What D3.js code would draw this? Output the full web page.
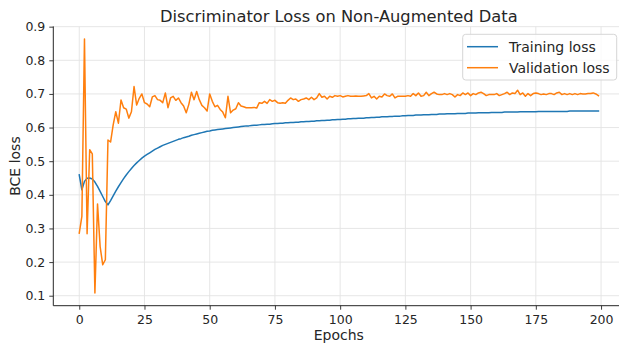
<!DOCTYPE html>
<html>
<head>
<meta charset="utf-8">
<script src="https://cdn.jsdelivr.net/npm/d3@7"></script>
<style>
  html, body { margin: 0; padding: 0; background: #fff; }
  svg { display: block; font-family: "DejaVu Sans", sans-serif; }
</style>
</head>
<body>
<svg id="chart" width="619" height="347"></svg>
<script>
// Per-epoch BCE loss of the discriminator (epochs 0..199)
const trainingLoss = [
  0.459, 0.415, 0.440, 0.449, 0.450, 0.447, 0.438, 0.425, 0.410, 0.395,
  0.380, 0.370, 0.383, 0.397, 0.411, 0.424, 0.436, 0.448, 0.459, 0.469,
  0.478, 0.487, 0.495, 0.502, 0.509, 0.515, 0.520, 0.525, 0.530, 0.535,
  0.539, 0.543, 0.547, 0.550, 0.553, 0.556, 0.559, 0.562, 0.565, 0.567,
  0.570, 0.572, 0.574, 0.577, 0.579, 0.581, 0.583, 0.585, 0.587, 0.589,
  0.590, 0.592, 0.593, 0.594, 0.595, 0.596, 0.597, 0.598, 0.599, 0.600,
  0.601, 0.602, 0.603, 0.604, 0.605, 0.605, 0.606, 0.607, 0.607, 0.608,
  0.609, 0.609, 0.610, 0.610, 0.611, 0.612, 0.612, 0.613, 0.613, 0.614,
  0.614, 0.615, 0.615, 0.616, 0.616, 0.617, 0.617, 0.618, 0.618, 0.619,
  0.619, 0.620, 0.620, 0.621, 0.621, 0.622, 0.622, 0.623, 0.623, 0.624,
  0.624, 0.625, 0.625, 0.626, 0.626, 0.627, 0.627, 0.628, 0.628, 0.628,
  0.629, 0.629, 0.630, 0.630, 0.631, 0.631, 0.632, 0.632, 0.632, 0.633,
  0.633, 0.634, 0.634, 0.634, 0.635, 0.635, 0.636, 0.636, 0.636, 0.637,
  0.637, 0.637, 0.638, 0.638, 0.638, 0.639, 0.639, 0.639, 0.640, 0.640,
  0.640, 0.641, 0.641, 0.641, 0.641, 0.642, 0.642, 0.642, 0.642, 0.643,
  0.643, 0.643, 0.643, 0.644, 0.644, 0.644, 0.644, 0.644, 0.645, 0.645,
  0.645, 0.645, 0.645, 0.646, 0.646, 0.646, 0.646, 0.646, 0.646, 0.647,
  0.647, 0.647, 0.647, 0.647, 0.647, 0.647, 0.648, 0.648, 0.648, 0.648,
  0.648, 0.648, 0.648, 0.648, 0.648, 0.648, 0.648, 0.648, 0.649, 0.649,
  0.649, 0.649, 0.649, 0.649, 0.649, 0.649, 0.649, 0.649, 0.649, 0.649
];

const validationLoss = [
  0.286, 0.336, 0.863, 0.284, 0.534, 0.522, 0.108, 0.373, 0.246, 0.192,
  0.207, 0.563, 0.557, 0.608, 0.647, 0.613, 0.682, 0.659, 0.655, 0.628,
  0.647, 0.722, 0.667, 0.687, 0.700, 0.674, 0.670, 0.662, 0.691, 0.695,
  0.683, 0.681, 0.674, 0.703, 0.659, 0.688, 0.693, 0.681, 0.688, 0.674,
  0.664, 0.644, 0.669, 0.705, 0.683, 0.707, 0.683, 0.666, 0.659, 0.649,
  0.700, 0.678, 0.662, 0.666, 0.654, 0.646, 0.629, 0.693, 0.644, 0.652,
  0.656, 0.674, 0.664, 0.662, 0.659, 0.659, 0.659, 0.660, 0.658, 0.674,
  0.672, 0.678, 0.672, 0.683, 0.678, 0.681, 0.674, 0.672, 0.674, 0.672,
  0.681, 0.688, 0.683, 0.685, 0.678, 0.683, 0.685, 0.688, 0.683, 0.690,
  0.683, 0.688, 0.701, 0.690, 0.693, 0.685, 0.693, 0.690, 0.695, 0.693,
  0.695, 0.691, 0.693, 0.695, 0.693, 0.693, 0.694, 0.693, 0.693, 0.694,
  0.695, 0.701, 0.688, 0.693, 0.685, 0.693, 0.691, 0.700, 0.695, 0.693,
  0.700, 0.688, 0.693, 0.693, 0.693, 0.693, 0.695, 0.693, 0.701, 0.695,
  0.703, 0.693, 0.695, 0.705, 0.695, 0.701, 0.705, 0.700, 0.698, 0.698,
  0.701, 0.698, 0.701, 0.698, 0.691, 0.698, 0.695, 0.703, 0.698, 0.703,
  0.695, 0.701, 0.698, 0.703, 0.705, 0.701, 0.695, 0.698, 0.698, 0.698,
  0.701, 0.695, 0.698, 0.701, 0.705, 0.698, 0.703, 0.701, 0.711, 0.698,
  0.703, 0.693, 0.701, 0.695, 0.701, 0.703, 0.701, 0.698, 0.700, 0.698,
  0.701, 0.701, 0.698, 0.703, 0.705, 0.698, 0.701, 0.698, 0.701, 0.698,
  0.701, 0.698, 0.701, 0.700, 0.700, 0.701, 0.701, 0.703, 0.700, 0.695
];

const epochs = d3.range(trainingLoss.length);
const xTicks = [0, 25, 50, 75, 100, 125, 150, 175, 200];
const yTicks = [0.1, 0.2, 0.3, 0.4, 0.5, 0.6, 0.7, 0.8, 0.9];
const seriesNames = ["Training loss", "Validation loss"];
const seriesColors = ["#1f77b4", "#ff7f0e"];
const titleText = "Discriminator Loss on Non-Augmented Data";
const xLabel = "Epochs";
const yLabel = "BCE loss";

const svg = d3.select("#chart");
const plot = { left: 53.3, right: 624.4, top: 26.4, bottom: 305.7 };

const x = d3.scaleLinear().domain([-9.95, 208.95]).range([plot.left, plot.right]);
const y = d3.scaleLinear().domain([0.0703, 0.9008]).range([plot.bottom, plot.top]);

// grid
const grid = svg.append("g").attr("stroke", "#e3e3e3").attr("stroke-width", 0.9);
grid.selectAll(".gx").data(xTicks).join("line")
  .attr("x1", d => x(d)).attr("x2", d => x(d))
  .attr("y1", plot.top).attr("y2", plot.bottom);
grid.selectAll(".gy").data(yTicks).join("line")
  .attr("x1", plot.left).attr("x2", plot.right)
  .attr("y1", d => y(d)).attr("y2", d => y(d));

// axes
const xAxis = svg.append("g")
  .attr("transform", `translate(0,${plot.bottom})`)
  .call(d3.axisBottom(x).tickValues(xTicks).tickFormat(d3.format("d")).tickSize(4).tickPadding(5));
const yAxis = svg.append("g")
  .attr("transform", `translate(${plot.left},0)`)
  .call(d3.axisLeft(y).tickValues(yTicks).tickFormat(d3.format(".1f")).tickSize(4).tickPadding(4));

[xAxis, yAxis].forEach(a => {
  a.select(".domain").attr("stroke", "#262626").attr("stroke-width", 1);
  a.selectAll(".tick line").attr("stroke", "#262626").attr("stroke-width", 0.9);
  a.selectAll(".tick text")
    .attr("fill", "#262626")
    .style("font-family", "DejaVu Sans")
    .style("font-size", "12.5px");
});
// the axis path ends run to the plot edge without end caps
xAxis.select(".domain").attr("d", `M${plot.left},0H${plot.right}`);
yAxis.select(".domain").attr("d", `M0,${plot.top}V${plot.bottom}`);

// lines
const line = d3.line().x((d, i) => x(epochs[i])).y(d => y(d));
[trainingLoss, validationLoss].forEach((s, k) => {
  svg.append("path")
    .datum(s)
    .attr("d", line)
    .attr("fill", "none")
    .attr("stroke", seriesColors[k])
    .attr("stroke-width", 1.5)
    .attr("stroke-linejoin", "round")
    .attr("stroke-linecap", "square");
});

// title and axis labels
svg.append("text")
  .attr("x", (plot.left + plot.right) / 2).attr("y", 21.5)
  .attr("text-anchor", "middle")
  .attr("fill", "#262626")
  .style("font-size", "16.3px")
  .text(titleText);

svg.append("text")
  .attr("x", (plot.left + plot.right) / 2).attr("y", 340)
  .attr("text-anchor", "middle")
  .attr("fill", "#262626")
  .style("font-size", "14px")
  .text(xLabel);

svg.append("text")
  .attr("transform", `translate(20,${(plot.top + plot.bottom) / 2}) rotate(-90)`)
  .attr("text-anchor", "middle")
  .attr("fill", "#262626")
  .style("font-size", "14px")
  .text(yLabel);

// legend
const legend = svg.append("g");
legend.append("rect")
  .attr("x", 462.7).attr("y", 34.3)
  .attr("width", 154).attr("height", 45.7)
  .attr("rx", 3)
  .attr("fill", "#fff").attr("fill-opacity", 0.8)
  .attr("stroke", "#d6d6d6").attr("stroke-width", 1);
seriesNames.forEach((name, k) => {
  const cy = 46.7 + k * 21;
  legend.append("line")
    .attr("x1", 467).attr("x2", 498)
    .attr("y1", cy).attr("y2", cy)
    .attr("stroke", seriesColors[k]).attr("stroke-width", 1.5);
  legend.append("text")
    .attr("x", 509).attr("y", cy + 5)
    .attr("fill", "#262626")
    .style("font-size", "14px")
    .text(name);
});
</script>
</body>
</html>
